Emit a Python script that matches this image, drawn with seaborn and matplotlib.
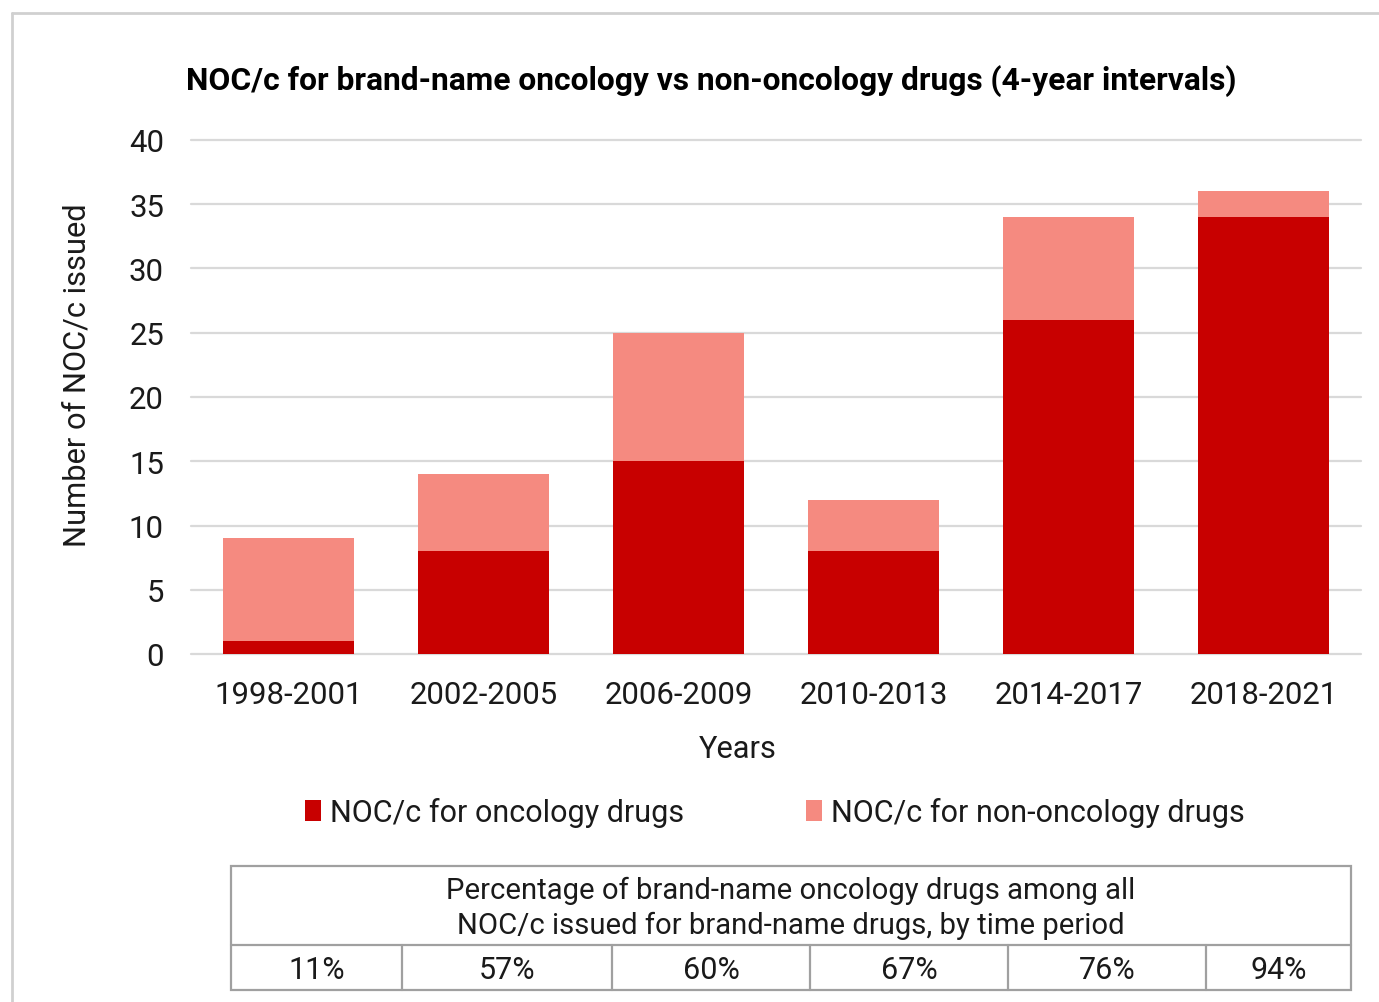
import matplotlib
matplotlib.use('Agg')
import matplotlib.pyplot as plt
import seaborn as sns
import pandas as pd
from matplotlib.patches import Patch, Rectangle

# ---- data ----
periods = ['1998-2001', '2002-2005', '2006-2009', '2010-2013', '2014-2017', '2018-2021']
oncology = [1, 8, 15, 8, 26, 34]
non_oncology = [8, 6, 10, 4, 8, 2]
pct_labels = ['11%', '57%', '60%', '67%', '76%', '94%']
yticks = [0, 5, 10, 15, 20, 25, 30, 35, 40]

title = 'NOC/c for brand-name oncology vs non-oncology drugs (4-year intervals)'
ylabel = 'Number of NOC/c issued'
xlabel = 'Years'
legend_labels = ['NOC/c for oncology drugs', 'NOC/c for non-oncology drugs']
table_header = 'Percentage of brand-name oncology drugs among all\nNOC/c issued for brand-name drugs, by time period'

RED = '#C80000'
SALMON = '#F58A80'
GRID = '#D9D9D9'
TXT = '#1A1A1A'

sns.set_theme(style='white')
plt.rcParams['font.family'] = ['Roboto', 'DejaVu Sans']

W, H = 1379, 1003
fig = plt.figure(figsize=(W / 100, H / 100), dpi=100)

df = pd.DataFrame({'period': periods, 'oncology': oncology, 'non_oncology': non_oncology})
df['total'] = df['oncology'] + df['non_oncology']

# axes in pixel geometry
left, right, top, bottom = 191, 1361, 141, 655
ax = fig.add_axes([left / W, 1 - bottom / H, (right - left) / W, (bottom - top) / H])

sns.barplot(data=df, x='period', y='total', color=SALMON, saturation=1, width=0.667,
            ax=ax, edgecolor='none', zorder=2)
sns.barplot(data=df, x='period', y='oncology', color=RED, saturation=1, width=0.667,
            ax=ax, edgecolor='none', zorder=3)

ax.set_xlim(-0.5, 5.5)
ax.set_ylim(0, 40)
ax.set_yticks(yticks)
ax.set_yticklabels([str(v) for v in yticks])
for s in ax.spines.values():
    s.set_visible(False)
ax.set_axisbelow(True)
ax.yaxis.grid(True, color=GRID, lw=1.6)
ax.xaxis.grid(False)
for gl in ax.get_ygridlines():
    gl.set_clip_on(False)
ax.tick_params(axis='x', length=0, pad=19, labelsize=22.4, labelcolor=TXT)
ax.tick_params(axis='y', length=0, pad=19.5, labelsize=22.4, labelcolor=TXT)

ax.set_xlabel(xlabel, fontsize=22.2, color=TXT)
ax.xaxis.set_label_coords((738 - left) / (right - left), (bottom - 735) / (bottom - top))
ax.set_ylabel(ylabel, fontsize=22.2, color=TXT)
ax.yaxis.set_label_coords((92 - left) / (right - left), (bottom - 375) / (bottom - top))

fig.text(711 / W, 1 - 81 / H, title, ha='center', va='center', fontsize=22.9,
         fontweight='bold', color='black')

handles = [Patch(facecolor=RED, edgecolor='none'), Patch(facecolor=SALMON, edgecolor='none')]
fig.legend(handles, legend_labels, loc='center', bbox_to_anchor=(775 / W, 1 - 813 / H),
           ncol=2, frameon=False, fontsize=22, handlelength=0.52, handleheight=0.7,
           handletextpad=0.3, columnspacing=4.0, labelcolor=TXT)

# overlay axes for frame and table (pixel coordinates)
oax = fig.add_axes([0, 0, 1, 1])
oax.set_xlim(0, W)
oax.set_ylim(H, 0)
oax.axis('off')

# figure frame
oax.plot([12, W], [14, 14], color='#D0D0D0', lw=2)
oax.plot([12, 12], [14, H], color='#D0D0D0', lw=2)

# table
TL = '#A0A0A0'
tx0, tx1, ty0, ty1, ty2 = 231, 1351, 867, 946, 991
col_edges = [231, 402, 612, 810, 1008, 1206, 1351]
oax.add_patch(Rectangle((tx0, ty0), tx1 - tx0, ty2 - ty0, fill=False, ec=TL, lw=1.6))
oax.plot([tx0, tx1], [ty1, ty1], color=TL, lw=1.6)
for xe in col_edges[1:-1]:
    oax.plot([xe, xe], [ty1, ty2], color=TL, lw=1.6)
oax.text((tx0 + tx1) / 2, (ty0 + ty1) / 2 + 2, table_header, ha='center', va='center',
         fontsize=21.1, color=TXT, linespacing=1.3)
for i, lab in enumerate(pct_labels):
    cx = (col_edges[i] + col_edges[i + 1]) / 2
    oax.text(cx, (ty1 + ty2) / 2 + 2, lab, ha='center', va='center', fontsize=22, color=TXT)

fig.savefig('out.png', dpi=100)
